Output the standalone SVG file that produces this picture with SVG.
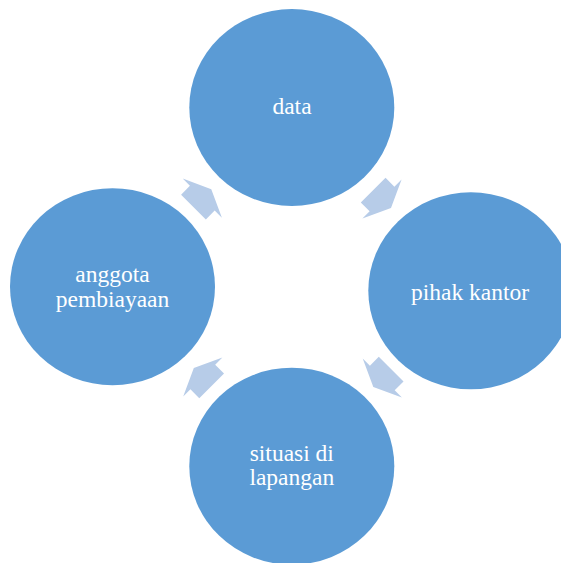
<svg xmlns="http://www.w3.org/2000/svg" width="561" height="563" viewBox="0 0 561 563">
<defs>
<style>
.node{fill:#5B9BD5;}
.lbl{fill:#ffffff;font-family:"Liberation Serif","Times New Roman",serif;font-size:23.5px;text-anchor:middle;}
.arr{fill:#B7CCE8;}
</style>
<polygon id="arrowShape" class="arr" points="-12.5,-17.5 0,-17.5 0,-27.7 12.7,0 0,27.7 0,17.5 -12.5,17.5"/>
</defs>
<rect width="561" height="563" fill="#ffffff"/>
<g id="connectors">
<use href="#arrowShape" transform="translate(202.3,198.2) rotate(-45)"/>
<use href="#arrowShape" transform="translate(382,199) rotate(45)"/>
<use href="#arrowShape" transform="translate(382.3,378) rotate(135)"/>
<use href="#arrowShape" transform="translate(202.8,377) rotate(-135)"/>
</g>
<g id="node-data">
<ellipse class="node" cx="291.8" cy="107.5" rx="102.5" ry="98.5"/>
<text class="lbl" x="292" y="114">data</text>
</g>
<g id="node-pihak-kantor">
<ellipse class="node" cx="470.8" cy="290.8" rx="102.5" ry="98.5"/>
<text class="lbl" x="470" y="299.5">pihak kantor</text>
</g>
<g id="node-situasi">
<ellipse class="node" cx="291.8" cy="466.2" rx="102.5" ry="98.5"/>
<text class="lbl" x="291.8" y="461">situasi di</text>
<text class="lbl" x="291.8" y="485">lapangan</text>
</g>
<g id="node-anggota">
<ellipse class="node" cx="112.5" cy="286.7" rx="102.5" ry="98.5"/>
<text class="lbl" x="112.5" y="281.7">anggota</text>
<text class="lbl" x="112.5" y="307.2">pembiayaan</text>
</g>
</svg>
